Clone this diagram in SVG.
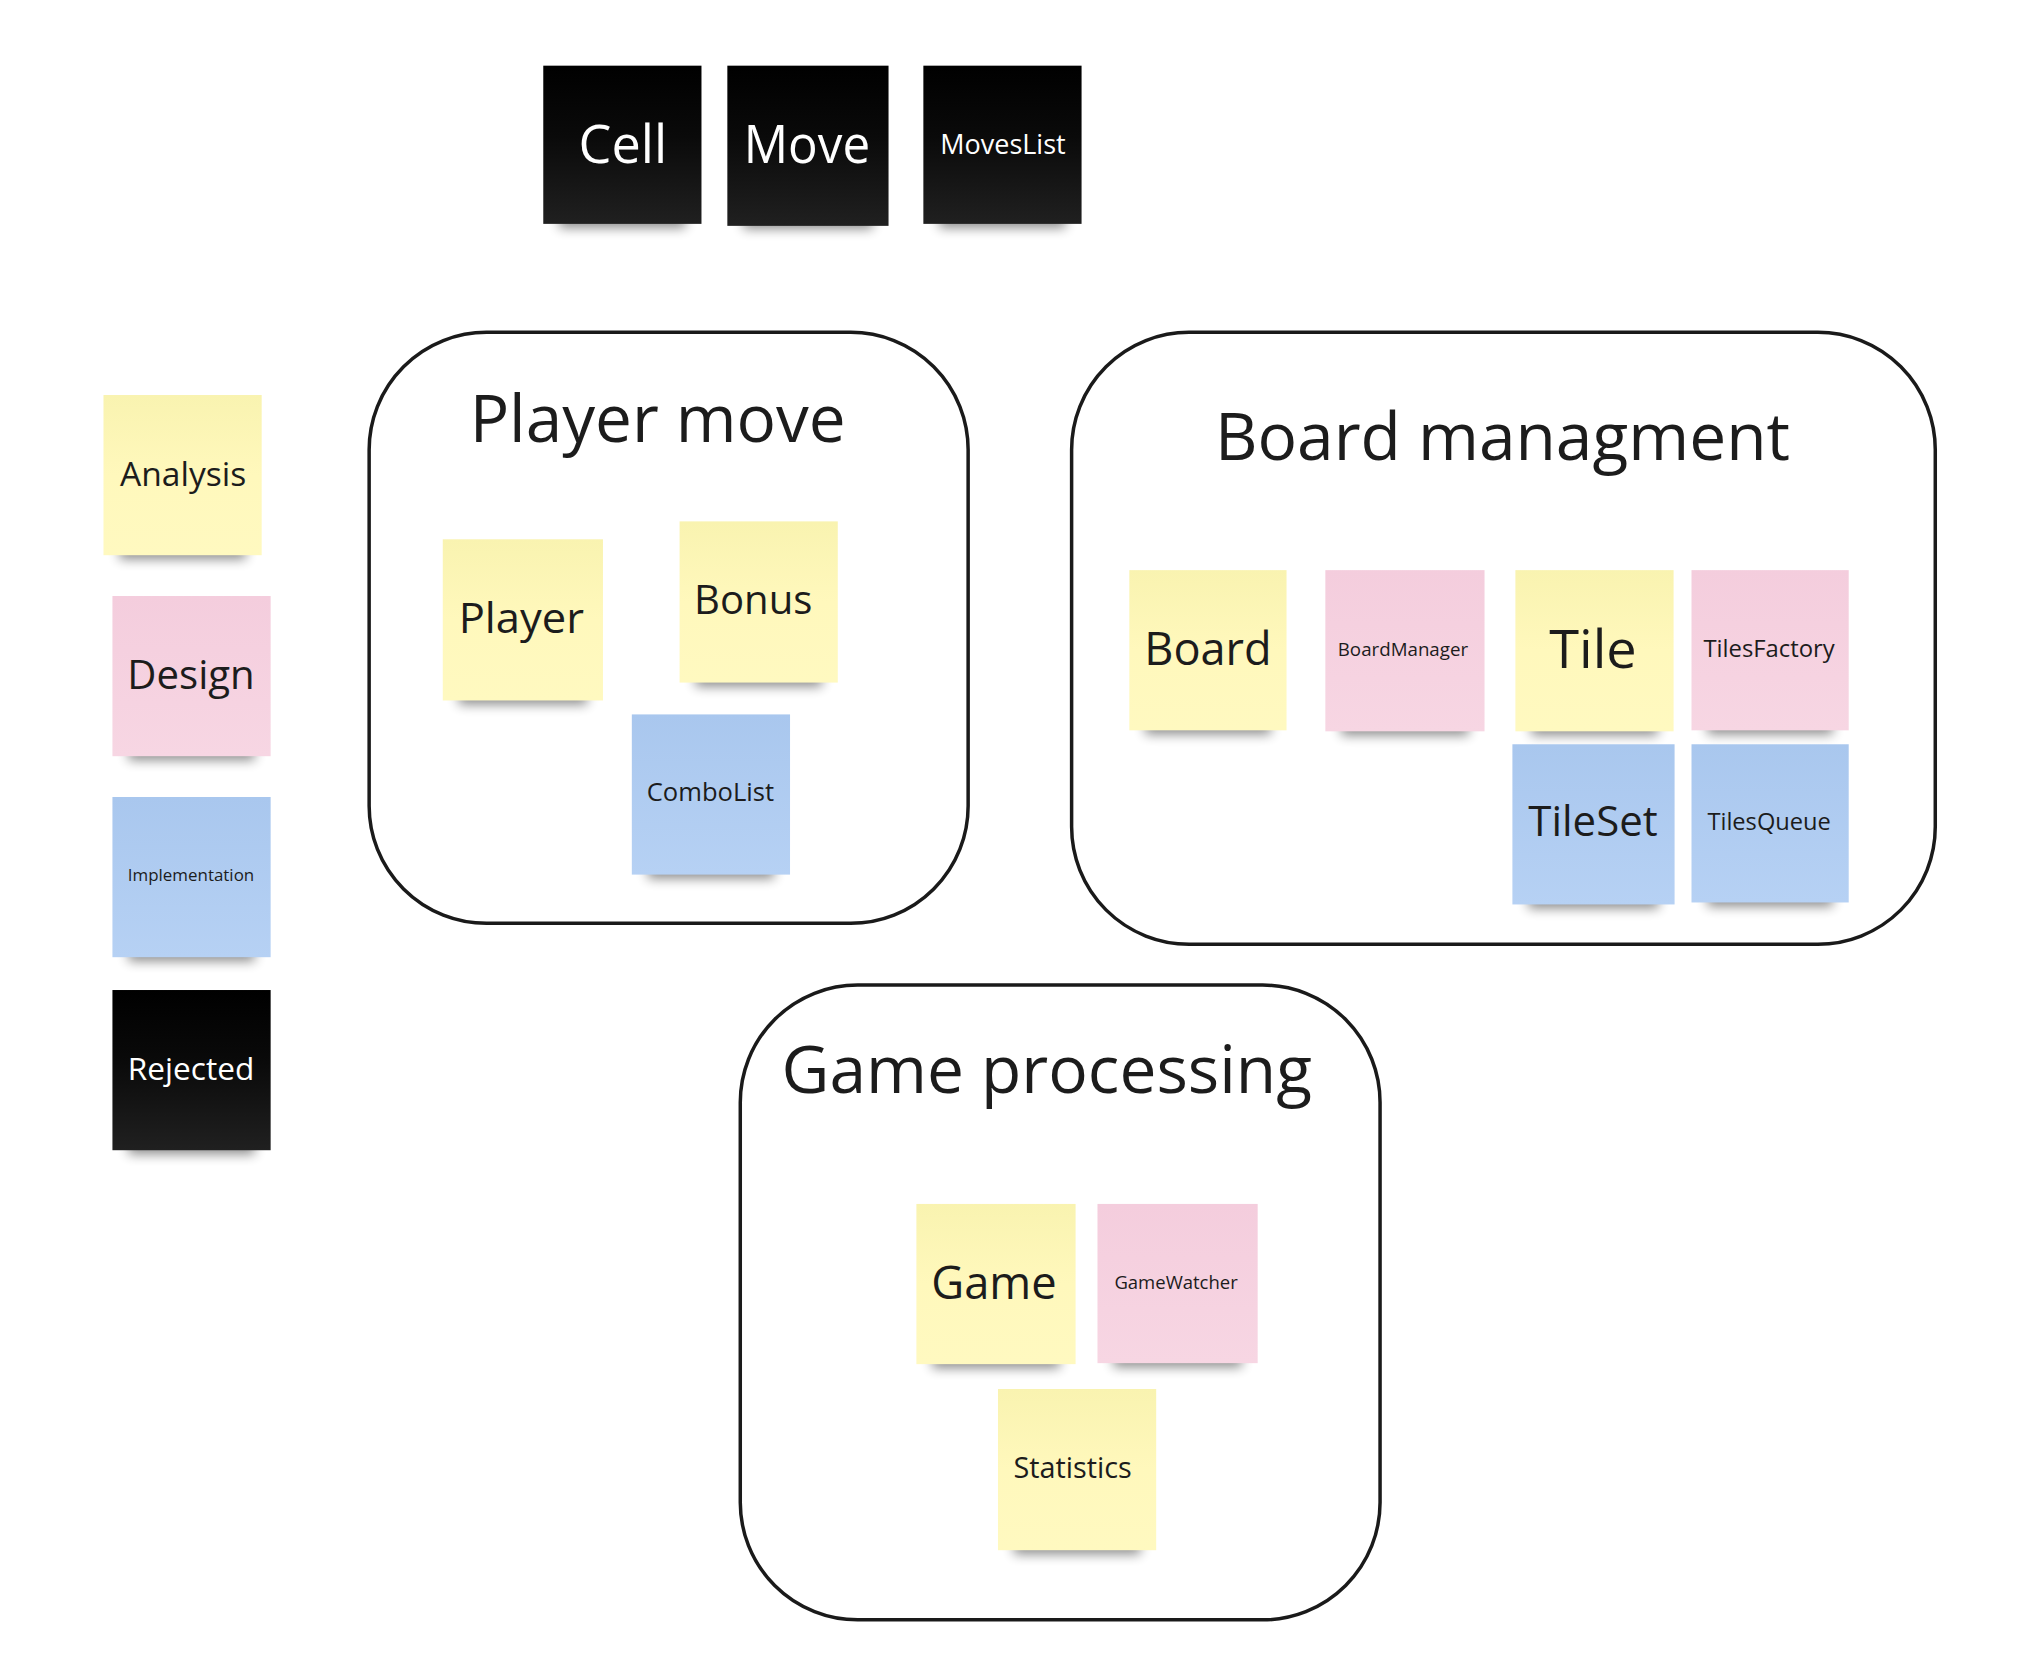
<svg xmlns="http://www.w3.org/2000/svg" width="2022" height="1668" viewBox="0 0 2022 1668">
<defs>
<linearGradient id="gy" x1="0" y1="0" x2="0" y2="1"><stop offset="0" stop-color="#f9f3b0"/><stop offset="0.5" stop-color="#fff8bc"/><stop offset="1" stop-color="#fff9c0"/></linearGradient>
<linearGradient id="gp" x1="0" y1="0" x2="0" y2="1"><stop offset="0" stop-color="#f4cddd"/><stop offset="1" stop-color="#f7d6e3"/></linearGradient>
<linearGradient id="gb" x1="0" y1="0" x2="0" y2="1"><stop offset="0" stop-color="#a9c7ee"/><stop offset="1" stop-color="#b6d1f4"/></linearGradient>
<linearGradient id="gk" x1="0" y1="0" x2="0" y2="1"><stop offset="0" stop-color="#000000"/><stop offset="0.45" stop-color="#0a0a0a"/><stop offset="1" stop-color="#202020"/></linearGradient>
<filter id="blur" x="-20%" y="-50%" width="140%" height="200%"><feGaussianBlur stdDeviation="6"/></filter>
</defs>
<style>
.sh{fill:#000;opacity:0.45;filter:url(#blur)}
.y{fill:url(#gy)}
.p{fill:url(#gp)}
.b{fill:url(#gb)}
.k{fill:url(#gk)}
text{font-family:"Open Sans","Noto Sans","Liberation Sans",sans-serif;text-anchor:middle;fill:#1c1c1c}
.w{fill:#ffffff}
.frame{fill:none;stroke:#1a1a1a;stroke-width:3.5}
.title{font-size:66px}
</style>
<rect width="2022" height="1668" fill="#ffffff"/>
<g transform="scale(0.995)">
<g id="frame-player-move">
<rect class="frame" x="371" y="334" width="602" height="594" rx="118"/>
<text class="title" x="661" y="444" textLength="378" lengthAdjust="spacingAndGlyphs">Player move</text>
</g>
<g id="frame-board-managment">
<rect class="frame" x="1077" y="334" width="868" height="615" rx="118"/>
<text class="title" x="1510" y="462" textLength="578" lengthAdjust="spacingAndGlyphs">Board managment</text>
</g>
<g id="frame-game-processing">
<rect class="frame" x="744" y="990" width="643" height="638" rx="118"/>
<text class="title" x="1052" y="1098" textLength="533" lengthAdjust="spacingAndGlyphs">Game processing</text>
</g>

<g id="connectors"></g>

<g id="cell"><rect class="sh" x="562" y="205" width="127" height="24"/><rect class="k" x="546" y="66" width="159" height="159"/><text class="w" x="626" y="164" font-size="54" textLength="89" lengthAdjust="spacingAndGlyphs">Cell</text></g>
<g id="move"><rect class="sh" x="747" y="206" width="130" height="24"/><rect class="k" x="731" y="66" width="162" height="161"/><text class="w" x="811" y="164" font-size="54" textLength="127" lengthAdjust="spacingAndGlyphs">Move</text></g>
<g id="moveslist"><rect class="sh" x="944" y="205" width="127" height="24"/><rect class="k" x="928" y="66" width="159" height="159"/><text class="w" x="1008" y="155" font-size="27" textLength="126" lengthAdjust="spacingAndGlyphs">MovesList</text></g>

<g id="analysis"><rect class="sh" x="120" y="538" width="127" height="24"/><rect class="y" x="104" y="397" width="159" height="161"/><text x="184" y="488" font-size="33" textLength="127" lengthAdjust="spacingAndGlyphs">Analysis</text></g>
<g id="design"><rect class="sh" x="129" y="740" width="127" height="24"/><rect class="p" x="113" y="599" width="159" height="161"/><text x="192" y="692" font-size="40" textLength="128" lengthAdjust="spacingAndGlyphs">Design</text></g>
<g id="implementation"><rect class="sh" x="129" y="942" width="127" height="24"/><rect class="b" x="113" y="801" width="159" height="161"/><text x="192" y="885" font-size="17" textLength="127" lengthAdjust="spacingAndGlyphs">Implementation</text></g>
<g id="rejected"><rect class="sh" x="129" y="1136" width="127" height="24"/><rect class="k" x="113" y="995" width="159" height="161"/><text class="w" x="192" y="1085" font-size="32" textLength="127" lengthAdjust="spacingAndGlyphs">Rejected</text></g>

<g id="player"><rect class="sh" x="461" y="684" width="129" height="24"/><rect class="y" x="445" y="542" width="161" height="162"/><text x="524" y="636" font-size="43" textLength="126" lengthAdjust="spacingAndGlyphs">Player</text></g>
<g id="bonus"><rect class="sh" x="699" y="666" width="127" height="24"/><rect class="y" x="683" y="524" width="159" height="162"/><text x="757" y="617" font-size="40" textLength="119" lengthAdjust="spacingAndGlyphs">Bonus</text></g>
<g id="combolist"><rect class="sh" x="651" y="859" width="127" height="24"/><rect class="b" x="635" y="718" width="159" height="161"/><text x="714" y="805" font-size="26" textLength="128" lengthAdjust="spacingAndGlyphs">ComboList</text></g>

<g id="board"><rect class="sh" x="1151" y="714" width="126" height="24"/><rect class="y" x="1135" y="573" width="158" height="161"/><text x="1214" y="668" font-size="45" textLength="128" lengthAdjust="spacingAndGlyphs">Board</text></g>
<g id="boardmanager"><rect class="sh" x="1348" y="715" width="128" height="24"/><rect class="p" x="1332" y="573" width="160" height="162"/><text x="1410" y="659" font-size="19" textLength="131" lengthAdjust="spacingAndGlyphs">BoardManager</text></g>
<g id="tile"><rect class="sh" x="1539" y="715" width="127" height="24"/><rect class="y" x="1523" y="573" width="159" height="162"/><text x="1601" y="671" font-size="54" textLength="88" lengthAdjust="spacingAndGlyphs">Tile</text></g>
<g id="tilesfactory"><rect class="sh" x="1716" y="714" width="126" height="24"/><rect class="p" x="1700" y="573" width="158" height="161"/><text x="1778" y="660" font-size="24" textLength="132" lengthAdjust="spacingAndGlyphs">TilesFactory</text></g>
<g id="tileset"><rect class="sh" x="1536" y="889" width="131" height="24"/><rect class="b" x="1520" y="748" width="163" height="161"/><text x="1601" y="840" font-size="42" textLength="130" lengthAdjust="spacingAndGlyphs">TileSet</text></g>
<g id="tilesqueue"><rect class="sh" x="1716" y="887" width="126" height="24"/><rect class="b" x="1700" y="748" width="158" height="159"/><text x="1778" y="834" font-size="24" textLength="124" lengthAdjust="spacingAndGlyphs">TilesQueue</text></g>

<g id="game"><rect class="sh" x="937" y="1351" width="128" height="24"/><rect class="y" x="921" y="1210" width="160" height="161"/><text x="999" y="1306" font-size="46" textLength="126" lengthAdjust="spacingAndGlyphs">Game</text></g>
<g id="gamewatcher"><rect class="sh" x="1119" y="1350" width="129" height="24"/><rect class="p" x="1103" y="1210" width="161" height="160"/><text x="1182" y="1295" font-size="19" textLength="124" lengthAdjust="spacingAndGlyphs">GameWatcher</text></g>
<g id="statistics"><rect class="sh" x="1019" y="1538" width="127" height="24"/><rect class="y" x="1003" y="1396" width="159" height="162"/><text x="1078" y="1485" font-size="29" textLength="119" lengthAdjust="spacingAndGlyphs">Statistics</text></g>
</g>
</svg>
